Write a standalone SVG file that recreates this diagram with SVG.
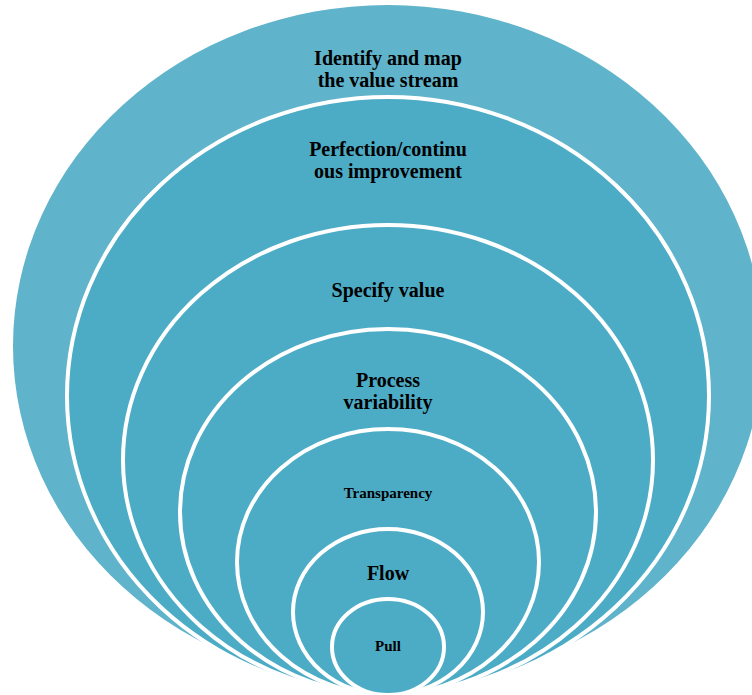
<svg xmlns="http://www.w3.org/2000/svg" width="752" height="695" viewBox="0 0 752 695">
  <style>
    .outer { fill: #5fb3ca; }
    .ring { fill: #4cacc6; stroke: #ffffff; stroke-width: 4; }
    .lbl { font-family: "Liberation Serif", "Times New Roman", serif; font-weight: bold; fill: #000000; text-anchor: middle; }
    .big { font-size: 20px; }
    .small { font-size: 15px; }
  </style>
  <rect width="752" height="695" fill="#ffffff"/>

  <g id="identify-value-stream">
    <ellipse class="outer" cx="388" cy="346" rx="375" ry="341"/>
    <text class="lbl big" x="388" y="65">Identify and map</text>
    <text class="lbl big" x="388" y="87">the value stream</text>
  </g>

  <g id="perfection">
    <ellipse class="ring" cx="388" cy="396" rx="321" ry="299"/>
    <text class="lbl big" x="388" y="156">Perfection/continu</text>
    <text class="lbl big" x="388" y="178">ous improvement</text>
  </g>

  <g id="specify-value">
    <ellipse class="ring" cx="388" cy="460" rx="265" ry="235"/>
    <text class="lbl big" x="388" y="297">Specify value</text>
  </g>

  <g id="process-variability">
    <ellipse class="ring" cx="388" cy="512" rx="208" ry="183"/>
    <text class="lbl big" x="388" y="387">Process</text>
    <text class="lbl big" x="388" y="409">variability</text>
  </g>

  <g id="transparency">
    <ellipse class="ring" cx="388" cy="562" rx="151" ry="133"/>
    <text class="lbl small" x="388" y="498">Transparency</text>
  </g>

  <g id="flow">
    <ellipse class="ring" cx="388" cy="612" rx="95" ry="83"/>
    <text class="lbl big" x="388" y="580">Flow</text>
  </g>

  <g id="pull">
    <ellipse class="ring" cx="388" cy="647" rx="56" ry="48"/>
    <text class="lbl small" x="388" y="651">Pull</text>
  </g>

  <g id="connectors"/>
</svg>
